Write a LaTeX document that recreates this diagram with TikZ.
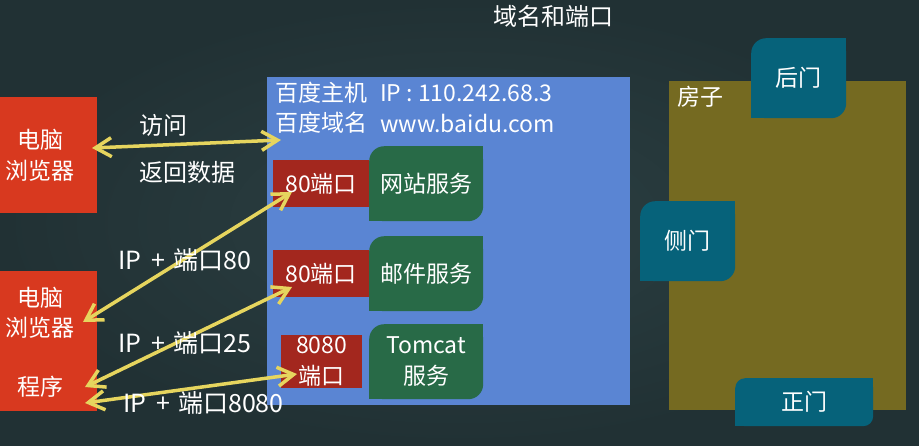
\documentclass[tikz,border=0pt]{standalone}
\usepackage{fontspec}
\setmainfont{Noto Sans CJK SC}
\usetikzlibrary{arrows.meta}
\definecolor{bgin}{HTML}{2C4043}
\definecolor{bgout}{HTML}{213134}
\definecolor{redbox}{HTML}{D8391F}
\definecolor{portred}{HTML}{A3271E}
\definecolor{hostblue}{HTML}{5A85D3}
\definecolor{svcgreen}{HTML}{286A47}
\definecolor{doorteal}{HTML}{06627A}
\definecolor{olive}{HTML}{756A21}
\definecolor{arrowyellow}{HTML}{E6D55E}
\tikzset{
  txt/.style={text=white, font=\fontsize{23}{30}\selectfont, inner sep=0pt, align=center},
  lbl/.style={txt, anchor=west, font=\fontsize{25}{30}\selectfont},
  box/.style={inner sep=0pt, anchor=north west, align=center, text=white, font=\fontsize{23}{31}\selectfont},
  leaf/.style n args={2}{box, path picture={
      \fill[#1, rounded corners=#2] (path picture bounding box.south west) rectangle (path picture bounding box.north east);
      \fill[#1] (path picture bounding box.north east) rectangle ++(-#2,-#2);
      \fill[#1] (path picture bounding box.south west) rectangle ++(#2,#2);}},
  link/.style={draw=arrowyellow, line width=3.5pt,
      {Straight Barb[length=16pt,width=19pt]}-{Straight Barb[length=16pt,width=19pt]}}
}
\newcommand{\ipplus}{IP\hspace{10pt}+\hspace{8pt}}
\begin{document}
\begin{tikzpicture}[x=1pt,y=-1pt]
\useasboundingbox (0,0) rectangle (919,445);
\shade[inner color=bgin, outer color=bgout] (0,0) rectangle (919,445);

\node[txt, font=\fontsize{24}{30}\selectfont] (title) at (553,16) {域名和端口};

% clients
\node[box, fill=redbox, minimum width=114pt, minimum height=116pt] (pc1) at (-17,97) {电脑\\浏览器};
\node[box, fill=redbox, minimum width=114pt, minimum height=140pt] (pc2) at (-17,271) {};
\node[txt] (pc2a) at (40,313) {电脑\\浏览器};
\node[txt] (pc2b) at (40,387) {程序};

% host
\node[box, fill=hostblue, minimum width=363pt, minimum height=328pt] (host) at (267,77) {};
\node[txt, anchor=west] (h1) at (275,93) {百度主机};
\node[txt, anchor=west] (h2) at (380,93) {IP : 110.242.68.3};
\node[txt, anchor=west] (h3) at (275,123) {百度域名};
\node[txt, anchor=west] (h4) at (380,123) {www.baidu.com};

\node[box, fill=portred, minimum width=96pt, minimum height=47pt] (p1) at (273,160) {80端口};
\node[leaf={svcgreen}{15pt}, minimum width=114pt, minimum height=75pt] (s1) at (369,146) {网站服务};
\node[box, fill=portred, minimum width=96pt, minimum height=47pt] (p2) at (273,250) {80端口};
\node[leaf={svcgreen}{15pt}, minimum width=114pt, minimum height=75pt] (s2) at (369,236) {邮件服务};
\node[box, fill=portred, minimum width=81pt, minimum height=53pt] (p3) at (281,335) {8080\\端口};
\node[leaf={svcgreen}{15pt}, minimum width=114pt, minimum height=75pt] (s3) at (369,324) {Tomcat\\服务};

% house
\node[box, fill=olive, minimum width=237pt, minimum height=329pt] (house) at (669,81) {};
\node[txt, anchor=west] (houselbl) at (677,97) {房子};
\node[leaf={doorteal}{15pt}, minimum width=95pt, minimum height=80pt] (d1) at (751,38) {后门};
\node[leaf={doorteal}{15pt}, minimum width=95pt, minimum height=80pt] (d2) at (640,201) {侧门};
\node[leaf={doorteal}{10pt}, minimum width=138pt, minimum height=48pt] (d3) at (735,378) {正门};

% connectors
\coordinate (a1s) at (92,148);  \coordinate (a1e) at (281,140);
\coordinate (a2s) at (83,322);  \coordinate (a2e) at (292,192);
\coordinate (a3s) at (85,387);  \coordinate (a3e) at (292,287);
\coordinate (a4s) at (85,403);  \coordinate (a4e) at (297,374);
\draw[link] (a1s) -- (a1e);
\draw[link] (a2s) -- (a2e);
\draw[link] (a3s) -- (a3e);
\draw[link] (a4s) -- (a4e);

% labels
\node[txt, anchor=west, font=\fontsize{24}{30}\selectfont] (l1) at (139,125) {访问};
\node[txt, anchor=west, font=\fontsize{24}{30}\selectfont] (l2) at (139,172) {返回数据};
\node[lbl] (l3) at (118,260) {\ipplus 端口80};
\node[lbl] (l4) at (118,343) {\ipplus 端口25};
\node[lbl] (l5) at (123,403) {\ipplus 端口8080};
\end{tikzpicture}
\end{document}
